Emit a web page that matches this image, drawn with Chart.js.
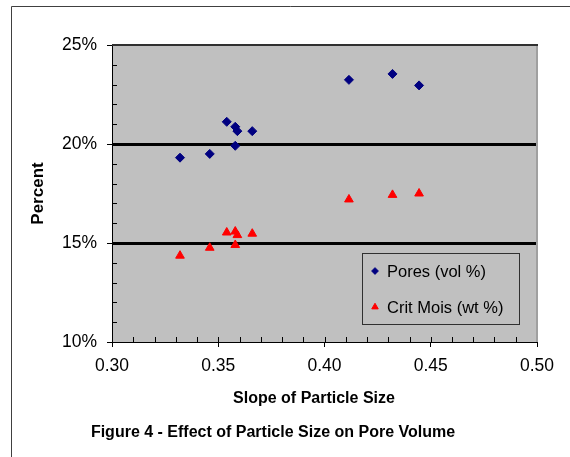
<!DOCTYPE html>
<html>
<head>
<meta charset="utf-8">
<script src="https://cdn.jsdelivr.net/npm/chart.js@4/dist/chart.umd.min.js"></script>
<style>
  html, body { margin: 0; padding: 0; background: #fff; }
  #wrap { width: 570px; height: 457px; position: relative; }
</style>
</head>
<body>
<div id="wrap"><canvas id="chart-pores" width="570" height="457"></canvas></div>
<script>
const slopes = [0.332, 0.346, 0.354, 0.358, 0.359, 0.366, 0.358, 0.4115, 0.432, 0.4445];
const pores = [19.31, 19.50, 21.12, 20.87, 20.65, 20.65, 19.91, 23.24, 23.54, 22.96];
const critMois = [14.36, 14.76, 15.53, 15.58, 15.40, 15.47, 14.90, 17.20, 17.43, 17.50];

const seriesLabels = ["Pores (vol %)", "Crit Mois (wt %)"];
const xTitle = "Slope of Particle Size";
const yTitle = "Percent";
const caption = "Figure 4 - Effect of Particle Size on Pore Volume";

const FONT = "'Liberation Sans', Arial, sans-serif";
const isMajorY = v => Math.round(v) % 5 === 0;
const isMajorX = v => Math.round(v * 100) % 5 === 0;

// grey plot area, outer frame, captions
const framePlugin = {
    id: "frame",
    beforeDraw(chart) {
        const ctx = chart.ctx;
        const a = chart.chartArea;
        ctx.save();
        ctx.fillStyle = "#c0c0c0";
        ctx.fillRect(a.left, a.top, a.right - a.left, a.bottom - a.top);
        ctx.strokeStyle = "#404040";
        ctx.lineWidth = 1;
        ctx.beginPath();
        ctx.moveTo(11.5, chart.height);
        ctx.lineTo(11.5, 6.5);
        ctx.lineTo(chart.width, 6.5);
        ctx.stroke();
        ctx.restore();
    },
    afterDraw(chart) {
        const ctx = chart.ctx;
        const a = chart.chartArea;
        ctx.save();
        ctx.lineWidth = 2;
        ctx.strokeStyle = "#a0a0a0";
        ctx.beginPath();
        ctx.moveTo(a.right, a.top);
        ctx.lineTo(a.right, a.bottom);
        ctx.stroke();
        ctx.strokeStyle = "#303030";
        ctx.beginPath();
        ctx.moveTo(a.left, a.top);
        ctx.lineTo(a.right + 1, a.top);
        ctx.stroke();

        ctx.fillStyle = "#000";
        ctx.font = "bold 16px " + FONT;
        ctx.textAlign = "center";
        ctx.textBaseline = "middle";
        ctx.fillText(xTitle, 314, 399);
        ctx.fillText(caption, 273, 433);
        ctx.restore();
    }
};

// minor ticks drawn inside the plot
const minorTicksPlugin = {
    id: "minorTicks",
    afterDatasetsDraw(chart) {
        const ctx = chart.ctx;
        const xs = chart.scales.x, ys = chart.scales.y;
        const a = chart.chartArea;
        ctx.save();
        ctx.strokeStyle = "#000";
        ctx.lineWidth = 1;
        ctx.beginPath();
        ys.ticks.forEach(t => {
            if (isMajorY(t.value)) return;
            const y = Math.round(ys.getPixelForValue(t.value)) + 0.5;
            ctx.moveTo(a.left, y);
            ctx.lineTo(a.left + 5, y);
        });
        xs.ticks.forEach(t => {
            const x = Math.round(xs.getPixelForValue(t.value)) + 0.5;
            ctx.moveTo(x, a.bottom);
            ctx.lineTo(x, a.bottom - 5);
        });
        ctx.stroke();
        ctx.restore();
    }
};

// legend box inside the plot
const boxLegendPlugin = {
    id: "boxLegend",
    afterDraw(chart) {
        const ctx = chart.ctx;
        ctx.save();
        ctx.fillStyle = "#c0c0c0";
        ctx.fillRect(362, 253, 157, 71);
        ctx.strokeStyle = "#303030";
        ctx.lineWidth = 1;
        ctx.strokeRect(362.5, 253.5, 157, 71);
        ctx.font = "16.5px " + FONT;
        ctx.textBaseline = "middle";
        ctx.textAlign = "left";
        chart.data.datasets.forEach((ds, i) => {
            const y = 271 + i * 36;
            ctx.fillStyle = ds.backgroundColor;
            ctx.strokeStyle = ds.borderColor;
            Chart.helpers.drawPoint(ctx, {
                pointStyle: ds.pointStyle, radius: ds.pointRadius * 0.75, rotation: 0, borderWidth: 1
            }, 375, y);
            ctx.fillStyle = "#000";
            ctx.fillText(ds.label, 387, y + 1);
        });
        ctx.restore();
    }
};

new Chart(document.getElementById("chart-pores"), {
    type: "scatter",
    data: {
        datasets: [{
            label: seriesLabels[0],
            data: slopes.map((s, i) => ({ x: s, y: pores[i] })),
            pointStyle: "rectRot",
            pointRadius: 4.5,
            backgroundColor: "#000080",
            borderColor: "#000080",
            borderWidth: 1
        }, {
            label: seriesLabels[1],
            data: slopes.map((s, i) => ({ x: s, y: critMois[i] })),
            pointStyle: "triangle",
            pointRadius: 5,
            backgroundColor: "#ff0000",
            borderColor: "#ff0000",
            borderWidth: 1
        }]
    },
    options: {
        responsive: false,
        animation: false,
        layout: { padding: { top: 45, right: 33, left: 0, bottom: 0 } },
        plugins: {
            legend: { display: false },
            tooltip: { enabled: false }
        },
        scales: {
            x: {
                type: "linear",
                min: 0.30,
                max: 0.50,
                afterFit: s => { s.height = 115; },
                border: { color: "#000", width: 1 },
                grid: {
                    drawOnChartArea: false,
                    tickLength: 5,
                    tickWidth: 1,
                    tickColor: c => isMajorX(c.tick.value) ? "#000" : "rgba(0,0,0,0)"
                },
                ticks: {
                    stepSize: 0.01,
                    autoSkip: false,
                    maxRotation: 0,
                    padding: 9,
                    color: "#000",
                    font: { family: FONT, size: 17.5 },
                    callback: v => isMajorX(v) ? Number(v).toFixed(2) : ""
                }
            },
            y: {
                min: 10,
                max: 25,
                afterFit: s => { s.width = 112; },
                border: { color: "#000", width: 1 },
                grid: {
                    tickLength: 5,
                    tickWidth: 1,
                    lineWidth: c => (c.tick && (c.tick.value === 15 || c.tick.value === 20)) ? 3 : 1,
                    color: c => (c.tick && (c.tick.value === 15 || c.tick.value === 20)) ? "#000" : "rgba(0,0,0,0)",
                    tickColor: c => isMajorY(c.tick.value) ? "#000" : "rgba(0,0,0,0)"
                },
                ticks: {
                    stepSize: 1,
                    autoSkip: false,
                    padding: 10,
                    color: "#000",
                    font: { family: FONT, size: 17.5 },
                    callback: v => isMajorY(v) ? v + "%" : ""
                },
                title: {
                    display: true,
                    text: yTitle,
                    color: "#000",
                    font: { family: FONT, size: 17, weight: "bold" },
                    padding: { top: 28, bottom: 0 }
                }
            }
        }
    },
    plugins: [framePlugin, minorTicksPlugin, boxLegendPlugin]
});
</script>
</body>
</html>
